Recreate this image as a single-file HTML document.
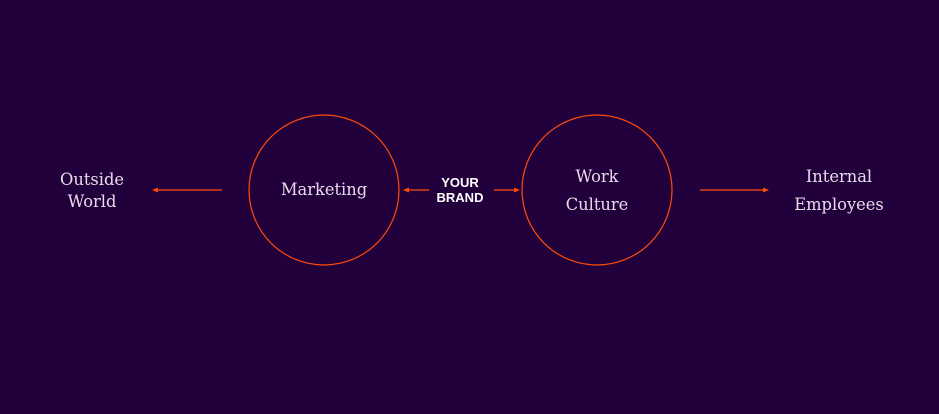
<!DOCTYPE html>
<html><head><style>
html,body{margin:0;padding:0;background:#22003b;}
svg{display:block}
.t{font-family:"DejaVu Serif",serif;font-size:16.3px;fill:#e6dcea;text-anchor:middle}
.b{font-family:"Liberation Sans",sans-serif;font-size:13px;font-weight:bold;fill:#fff;text-anchor:middle}
</style></head><body>
<svg width="939" height="414" viewBox="0 0 939 414">
<rect width="939" height="414" fill="#22003b"/>
<g stroke="#ff4a0a" stroke-width="1.2" fill="none">
<circle cx="324" cy="190" r="75"/>
<circle cx="597" cy="190" r="75"/>
<line x1="155" y1="190" x2="222" y2="190"/>
<line x1="406" y1="190" x2="429" y2="190"/>
<line x1="494" y1="190" x2="517" y2="190"/>
<line x1="700" y1="190" x2="766" y2="190"/>
</g>
<g fill="#ff4a0a">
<polygon points="152,190 158,187.5 158,192.5"/>
<polygon points="403,190 409,187.5 409,192.5"/>
<polygon points="520,190 514,187.5 514,192.5"/>
<polygon points="769,190 763,187.5 763,192.5"/>
</g>
<text class="t" x="92" y="185">Outside</text>
<text class="t" x="92" y="207">World</text>
<text class="t" x="324" y="195">Marketing</text>
<text class="t" x="597" y="182">Work</text>
<text class="t" x="597" y="210">Culture</text>
<text class="t" x="839" y="182">Internal</text>
<text class="t" x="839" y="210">Employees</text>
<text class="b" x="460" y="187">YOUR</text>
<text class="b" x="460" y="202">BRAND</text>
</svg>
</body></html>
